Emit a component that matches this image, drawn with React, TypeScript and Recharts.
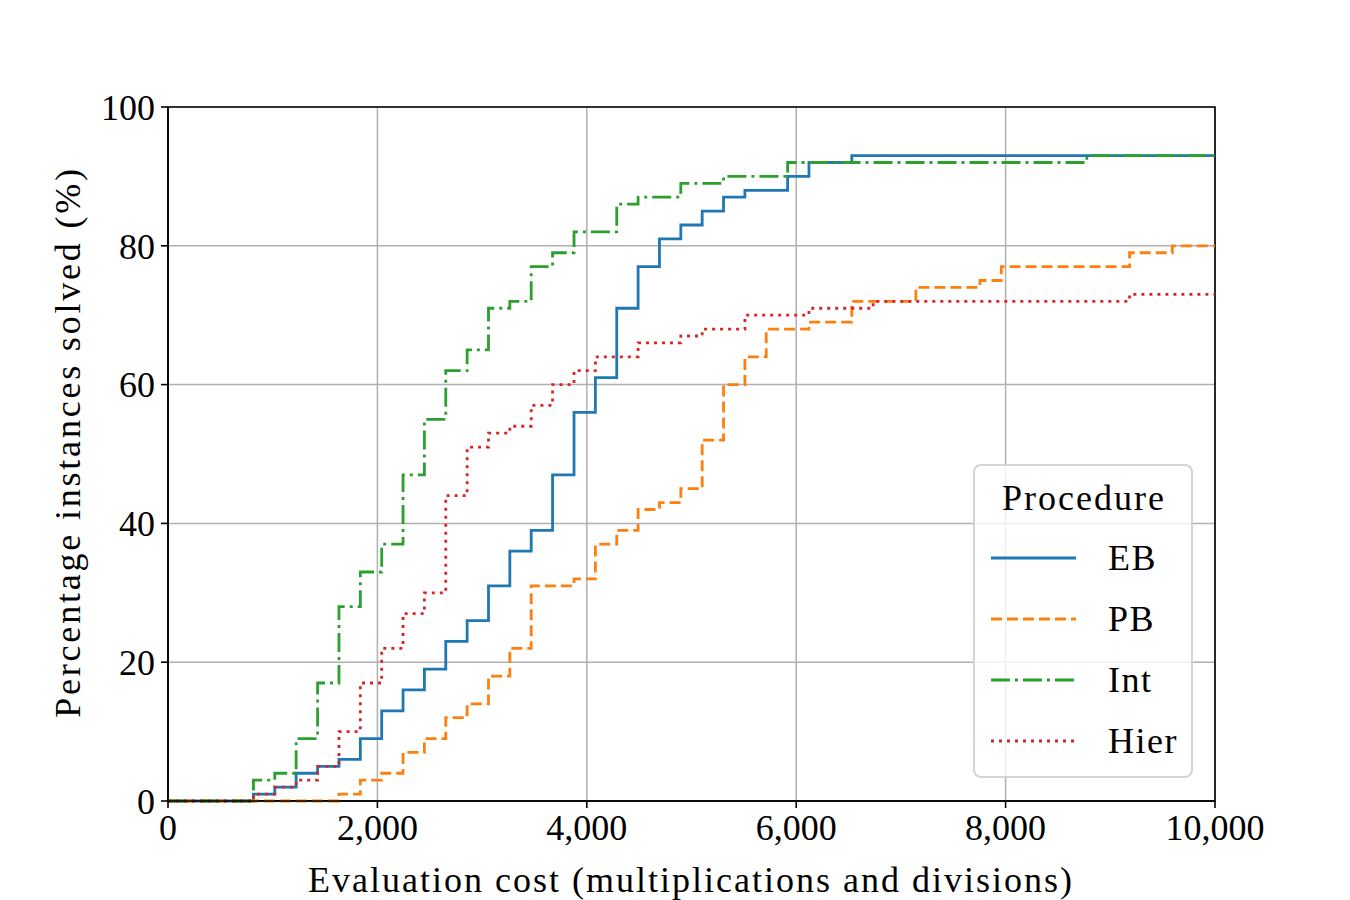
import React from "react";
import { LineChart, Line, XAxis, YAxis, CartesianGrid, ReferenceArea } from "recharts";

const FONT = "'Liberation Serif', 'DejaVu Serif', serif";

const xTicks = [0, 2000, 4000, 6000, 8000, 10000];
const yTicks = [0, 20, 40, 60, 80, 100];

// evaluation cost at which the curve steps up, and the share solved from there on
const ebCost = [816, 1020, 1224, 1429, 1633, 1837, 2041, 2245, 2449, 2653, 2857, 3061, 3265, 3469, 3673, 3878, 4082, 4286, 4490, 4694, 4898, 5102, 5306, 5510, 5918, 6122, 6531];
const ebSolved = [1, 2, 4, 5, 6, 9, 13, 16, 19, 23, 26, 31, 36, 39, 47, 56, 61, 71, 77, 81, 83, 85, 87, 88, 90, 92, 93];

const pbCost = [1633, 1837, 2041, 2245, 2449, 2653, 2857, 3061, 3265, 3469, 3878, 4082, 4286, 4490, 4694, 4898, 5102, 5306, 5510, 5714, 6122, 6531, 7143, 7755, 7959, 9184, 9592];
const pbSolved = [1, 3, 4, 7, 9, 12, 14, 18, 22, 31, 32, 37, 39, 42, 43, 45, 52, 60, 64, 68, 69, 72, 74, 75, 77, 79, 80];

const intCost = [816, 1020, 1224, 1429, 1633, 1837, 2041, 2245, 2449, 2653, 2857, 3061, 3265, 3469, 3673, 3878, 4286, 4490, 4898, 5306, 5918, 8776];
const intSolved = [3, 4, 9, 17, 28, 33, 37, 47, 55, 62, 65, 71, 72, 77, 79, 82, 86, 87, 89, 90, 92, 93];

const hierCost = [816, 1020, 1224, 1429, 1633, 1837, 2041, 2245, 2449, 2653, 2857, 3061, 3265, 3469, 3673, 3878, 4082, 4490, 4898, 5102, 5510, 6122, 6735, 9184];
const hierSolved = [1, 2, 3, 5, 10, 17, 22, 27, 30, 44, 51, 53, 54, 57, 60, 62, 64, 66, 67, 68, 70, 71, 72, 73];

const toSteps = (cost: number[], solved: number[]) => [
    { cost: 0, solved: 0 },
    ...cost.map((c, i) => ({ cost: c, solved: solved[i] })),
    { cost: 10000, solved: solved[solved.length - 1] },
];

const series = [
    { name: "EB", color: "#1f77b4", dash: undefined, data: toSteps(ebCost, ebSolved) },
    { name: "PB", color: "#ff7f0e", dash: "11 5", data: toSteps(pbCost, pbSolved) },
    { name: "Int", color: "#2ca02c", dash: "19 5 3 5", data: toSteps(intCost, intSolved) },
    { name: "Hier", color: "#d62728", dash: "3 5", data: toSteps(hierCost, hierSolved) },
];

function ProcedureLegend() {
    return (
        <div
            style={{
                position: "absolute",
                left: 973,
                top: 464,
                width: 220,
                height: 314,
                boxSizing: "border-box",
                border: "2px solid #d4d4d4",
                borderRadius: 8,
                background: "rgba(255,255,255,0.8)",
                fontFamily: FONT,
                fontSize: 36,
                color: "#000",
            }}
        >
            <div style={{ position: "absolute", left: 0, width: 218, top: 12, textAlign: "center", lineHeight: "40px", letterSpacing: 2 }}>
                Procedure
            </div>
            {series.map((s, i) => (
                <div key={s.name} style={{ position: "absolute", left: 0, top: 72 + i * 61, height: 40, width: 218 }}>
                    <svg width={110} height={40} style={{ position: "absolute", left: 0, top: 0 }}>
                        <line x1={16} x2={101} y1={20} y2={20} stroke={s.color} strokeWidth={2.8} strokeDasharray={s.dash} />
                    </svg>
                    <span style={{ position: "absolute", left: 133, top: 0, lineHeight: "40px", letterSpacing: 1.5 }}>{s.name}</span>
                </div>
            ))}
        </div>
    );
}

export default function App() {
    return (
        <div style={{ position: "absolute", left: 0, top: 0, width: 1350, height: 900, background: "#fff" }}>
            <LineChart width={1350} height={900} margin={{ top: 107, right: 135, bottom: 0, left: 0 }}>
                <CartesianGrid stroke="#b0b0b0" strokeWidth={1.5} />
                <XAxis
                    dataKey="cost"
                    type="number"
                    domain={[0, 10000]}
                    ticks={xTicks}
                    height={99}
                    tickSize={7}
                    tickMargin={6}
                    tickLine={{ stroke: "#000", strokeWidth: 1.6 }}
                    axisLine={{ stroke: "#000", strokeWidth: 1.6 }}
                    tick={{ fill: "#000", fontSize: 36, fontFamily: FONT }}
                    tickFormatter={(v: number) => v.toLocaleString("en-US")}
                    label={{
                        content: () => (
                            <text
                                x={691}
                                y={880}
                                textAnchor="middle"
                                dominantBaseline="central"
                                fontSize={36}
                                letterSpacing={2}
                                fontFamily={FONT}
                                fill="#000"
                            >
                                Evaluation cost (multiplications and divisions)
                            </text>
                        ),
                    }}
                />
                <YAxis
                    type="number"
                    domain={[0, 100]}
                    ticks={yTicks}
                    width={168}
                    tickSize={7}
                    tickMargin={6}
                    tickLine={{ stroke: "#000", strokeWidth: 1.6 }}
                    axisLine={{ stroke: "#000", strokeWidth: 1.6 }}
                    tick={{ fill: "#000", fontSize: 36, fontFamily: FONT }}
                    label={{
                        content: () => (
                            <text
                                x={68}
                                y={442}
                                transform="rotate(-90 68 442)"
                                textAnchor="middle"
                                dominantBaseline="central"
                                fontSize={36}
                                letterSpacing={2.8}
                                fontFamily={FONT}
                                fill="#000"
                            >
                                Percentage instances solved (%)
                            </text>
                        ),
                    }}
                />
                {series.map((s) => (
                    <Line
                        key={s.name}
                        data={s.data}
                        dataKey="solved"
                        name={s.name}
                        type="stepAfter"
                        stroke={s.color}
                        strokeWidth={2.8}
                        strokeDasharray={s.dash}
                        dot={false}
                        activeDot={false}
                        isAnimationActive={false}
                    />
                ))}
                <ReferenceArea x1={0} x2={10000} y1={0} y2={100} fill="none" stroke="#000" strokeWidth={1.6} />
            </LineChart>
            <ProcedureLegend />
        </div>
    );
}
